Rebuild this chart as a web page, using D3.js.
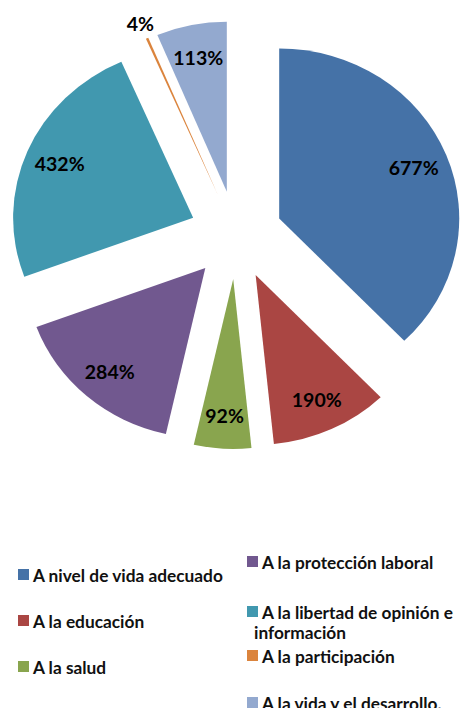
<!DOCTYPE html>
<html>
<head>
<meta charset="utf-8">
<script src="https://cdn.jsdelivr.net/npm/d3@7"></script>
<style>
  body { margin: 0; background: #fff; }
  svg { display: block; font-family: Lato, "Open Sans", sans-serif; }
</style>
</head>
<body>
<div id="pie-chart" style="width:460px;height:708px"></div>
<script>
var categories = [
	"A nivel de vida adecuado",
	"A la educación",
	"A la salud",
	"A la protección laboral",
	"A la libertad de opinión e información",
	"A la participación",
	"A la vida y el desarrollo."
];
var values = [677, 190, 92, 284, 432, 4, 113];
var valueLabels = ["677%", "190%", "92%", "284%", "432%", "4%", "113%"];
var colors = ["#4572a7", "#aa4643", "#89a54e", "#71588f", "#4198af", "#db843d", "#93a9cf"];

var dom = document.getElementById('pie-chart');
var width = dom.offsetWidth;
var height = dom.offsetHeight;

var svg = d3.select(dom)
	.append("svg")
	.attr("width", width)
	.attr("height", height);

// the original picture is a bit wider than tall
var cx = 236, cy = 235, sx = 1.059;
var radius = 170, explode = 44;

var pie = d3.pie().sort(null).value(function(d){ return d; });
var arcs = pie(values);

var arc = d3.arc().innerRadius(0).outerRadius(radius);
var labelArc = d3.arc().innerRadius(137).outerRadius(137);
var outArc = d3.arc().innerRadius(186).outerRadius(186);
var shiftArc = d3.arc().innerRadius(explode).outerRadius(explode);

var pieG = svg.append("g")
	.attr("transform", "translate(" + cx + "," + cy + ") scale(" + sx + ",1)");

pieG.selectAll("path")
	.data(arcs)
	.enter()
	.append("path")
	.attr("transform", function(d){
		var s = shiftArc.centroid(d);
		return "translate(" + s[0] + "," + s[1] + ")";
	})
	.attr("d", arc)
	.attr("fill", function(d,i){ return colors[i]; });

function labelPos(d) {
	var s = shiftArc.centroid(d);
	var small = (d.endAngle - d.startAngle) < 0.05;
	var c = small ? outArc.centroid(d) : labelArc.centroid(d);
	return [cx + sx * (s[0] + c[0]), cy + s[1] + c[1]];
}

svg.selectAll("text.value")
	.data(arcs)
	.enter()
	.append("text")
	.attr("class", "value")
	.attr("x", function(d){ return labelPos(d)[0]; })
	.attr("y", function(d){ return labelPos(d)[1]; })
	.attr("text-anchor", "middle")
	.attr("dominant-baseline", "central")
	.attr("font-size", "19.5px")
	.attr("font-weight", "bold")
	.attr("fill", "#000")
	.text(function(d,i){ return valueLabels[i]; });

// legend: two columns
var legendLeft = [0, 1, 2];
var legendRight = [3, 4, 5, 6];

function legendItem(idx, x, y, lines) {
	var g = svg.append("g").attr("class", "legend");
	g.append("rect")
		.attr("x", x)
		.attr("y", y - 6)
		.attr("width", 11)
		.attr("height", 11)
		.attr("fill", colors[idx]);
	var t = g.append("text")
		.attr("font-size", "17.3px")
		.attr("font-weight", "bold")
		.attr("fill", "#111");
	lines.forEach(function(line, k){
		t.append("tspan")
			.attr("x", k == 0 ? x + 15 : x + 7)
			.attr("y", y + k * 20)
			.attr("dominant-baseline", "central")
			.text(line);
	});
}

legendLeft.forEach(function(idx, i){
	legendItem(idx, 18, 575 + i * 46, [categories[idx]]);
});
legendRight.forEach(function(idx, i){
	var name = categories[idx];
	var lines = name.length > 30 ? ["A la libertad de opinión e", "información"] : [name];
	legendItem(idx, 247, 562 + i * 47 + (lines.length > 1 ? 3 : 0), lines);
});
</script>
</body>
</html>
